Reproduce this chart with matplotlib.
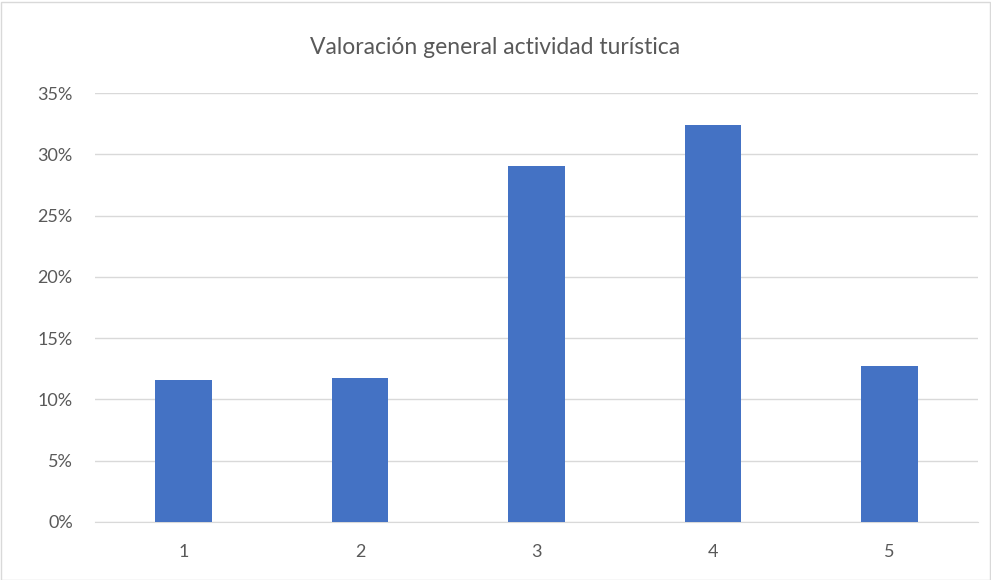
import matplotlib
matplotlib.use("Agg")
import matplotlib.pyplot as plt
from matplotlib.ticker import PercentFormatter
from matplotlib.patches import Rectangle

# data
categories = ["1", "2", "3", "4", "5"]
values = [0.1160, 0.1175, 0.2905, 0.3237, 0.1275]
yticks = [0.0, 0.05, 0.10, 0.15, 0.20, 0.25, 0.30, 0.35]

plt.rcParams['font.family'] = ['Lato', 'DejaVu Sans']

fig = plt.figure(figsize=(9.91, 5.8), dpi=100)
ax = fig.add_axes([95 / 991, 58 / 580, 883 / 991, 429 / 580])

x = range(len(categories))
ax.bar(x, values, width=0.32, color="#4472C4", zorder=3)

ax.set_xlim(-0.5, len(categories) - 0.5)
ax.set_ylim(0, 0.35)
ax.set_yticks(yticks)
ax.yaxis.set_major_formatter(PercentFormatter(1.0, decimals=0))
ax.set_xticks(list(x))
ax.set_xticklabels(categories)

ax.grid(axis="y", color="#D9D9D9", linewidth=1, zorder=0)
for s in ["top", "right", "left"]:
    ax.spines[s].set_visible(False)
ax.spines["bottom"].set_color("#D9D9D9")
ax.tick_params(axis="both", length=0, labelsize=13, colors="#595959")
ax.tick_params(axis="y", pad=16)
ax.tick_params(axis="x", pad=16)

fig.text(0.5, 1 - 47 / 580, "Valoración general actividad turística",
         ha="center", va="center", fontsize=16.5, color="#595959")

# chart border
fig.patches.append(Rectangle((0.5 / 991, 0.5 / 580), 989 / 991, 578 / 580,
                             transform=fig.transFigure, fill=False,
                             edgecolor="#D9D9D9", linewidth=1))

fig.savefig("out.png", dpi=100)
